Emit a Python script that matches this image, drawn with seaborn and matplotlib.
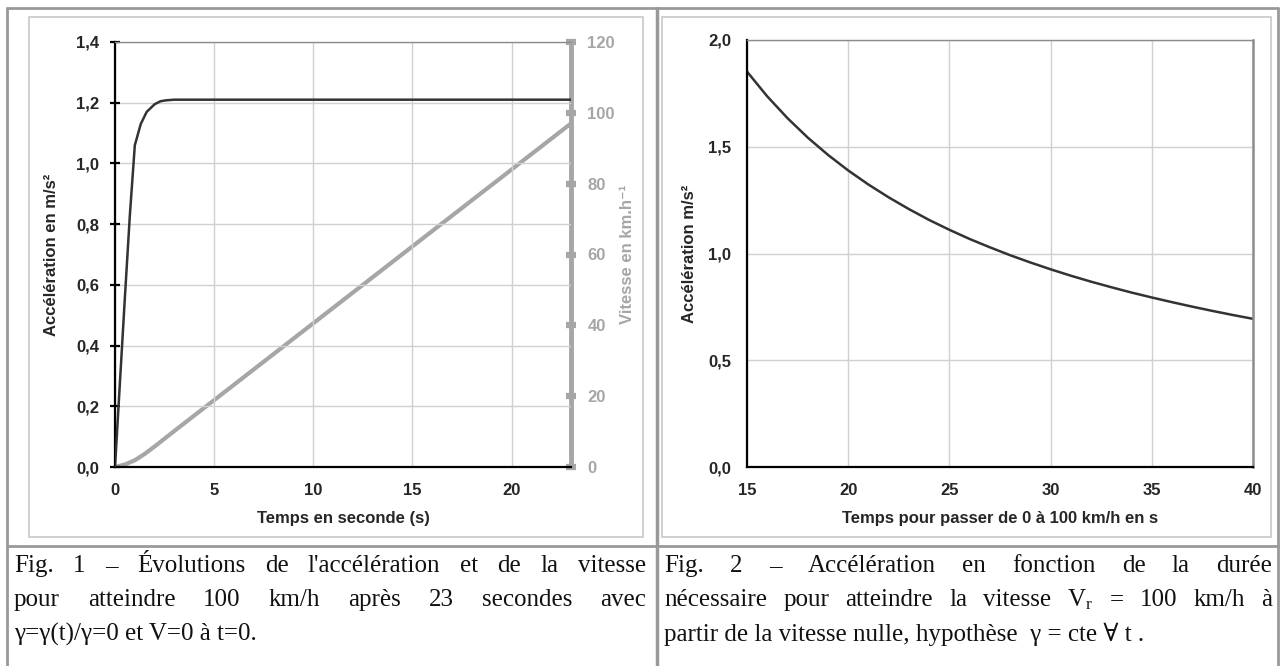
import matplotlib
matplotlib.use("Agg")
import matplotlib.pyplot as plt
from matplotlib.lines import Line2D
from matplotlib.patches import Rectangle
from matplotlib.ticker import FuncFormatter
import seaborn as sns
import pandas as pd

# --- data ---
# Fig. 1 : acceleration (m/s2) and speed (km/h) vs time (s)
t_acc = [0, 0.25, 0.5, 0.75, 1.0, 1.3, 1.6, 2.0, 2.3, 2.6, 3.0, 23]
acc = [0, 0.28, 0.56, 0.83, 1.06, 1.13, 1.17, 1.195, 1.205, 1.208, 1.21, 1.21]
t_vit = [0, 0.5, 1.0, 1.5, 2.0, 2.5, 3.0, 23]
vit = [0, 0.7, 1.9, 3.7, 5.8, 8.0, 10.2, 97]

# Fig. 2 : acceleration needed vs time to reach 100 km/h
duree = [15, 16, 17, 18, 19, 20, 21, 22, 23, 24, 25, 26, 27,
         28, 29, 30, 31, 32, 33, 34, 35, 36, 37, 38, 39, 40]
acc_cte = [1.852, 1.736, 1.634, 1.543, 1.462, 1.389, 1.323, 1.263, 1.208, 1.157, 1.111,
           1.068, 1.029, 0.992, 0.958, 0.926, 0.896, 0.868, 0.842, 0.817, 0.794,
           0.772, 0.751, 0.731, 0.712, 0.694]

caption1 = ["Fig. 1 – Évolutions de l'accélération et de la vitesse",
            "pour atteindre 100 km/h après 23 secondes avec",
            "γ=γ(t)/γ=0 et V=0 à t=0."]
caption2 = ["Fig. 2 – Accélération en fonction de la durée",
            r"nécessaire pour atteindre la vitesse  $\mathregular{V_r}$ = 100 km/h à",
            "partir de la vitesse nulle, hypothèse  γ = cte ∀ t ."]

W, H = 1280, 666
sns.set_theme(style="white")
plt.rcParams['font.family'] = ['Liberation Sans', 'DejaVu Sans']

DARK = "#333333"
GREY = "#a6a6a6"
GRID = "#d0d0d0"
FRAME = "#8c8c8c"
FS = 12

fig = plt.figure(figsize=(W / 100, H / 100), dpi=100)


def box(x0, y0, x1, y1):
    # pixel coords (top-left origin) -> figure fraction
    return [x0 / W, 1 - y1 / H, (x1 - x0) / W, (y1 - y0) / H]


def hline(x0, x1, y, color, lw):
    fig.add_artist(Line2D([x0 / W, x1 / W], [1 - y / H, 1 - y / H], color=color, lw=lw,
                          transform=fig.transFigure))


def vline(x, y0, y1, color, lw):
    fig.add_artist(Line2D([x / W, x / W], [1 - y0 / H, 1 - y1 / H], color=color, lw=lw,
                          transform=fig.transFigure))


comma = FuncFormatter(lambda v, p: f"{v:.1f}".replace(".", ","))

# table frame
hline(7, 1278, 8, "#999999", 2)
vline(7, 8, 666, "#999999", 2)
vline(657, 8, 666, "#999999", 2.5)
vline(1278, 8, 666, "#999999", 2)
hline(7, 1278, 546, "#999999", 2)

# chart boxes
for (x0, x1) in [(29, 643), (662, 1271)]:
    fig.add_artist(Rectangle((x0 / W, 1 - 537 / H), (x1 - x0) / W, (537 - 17) / H,
                             transform=fig.transFigure, fill=False, ec="#c8c8c8", lw=1.2))

# ---------- Fig. 1 ----------
ax1 = fig.add_axes(box(115, 42, 571, 467))
df1 = pd.DataFrame({"t": t_acc, "a": acc})
sns.lineplot(data=df1, x="t", y="a", ax=ax1, color=DARK, lw=1.8, zorder=5)
ax1.set_xlim(0, 23)
ax1.set_ylim(0, 1.4)
ax1.set_xticks([0, 5, 10, 15, 20])
ax1.set_yticks([0, 0.2, 0.4, 0.6, 0.8, 1.0, 1.2, 1.4])
ax1.yaxis.set_major_formatter(comma)
ax1.grid(True, color=GRID, lw=1)
ax1.set_xlabel("Temps en seconde (s)", fontsize=FS, fontweight="bold")
ax1.set_ylabel("Accélération en m/s²", fontsize=FS, fontweight="bold")

ax2 = ax1.twinx()
df2 = pd.DataFrame({"t": t_vit, "v": vit})
sns.lineplot(data=df2, x="t", y="v", ax=ax2, color=GREY, lw=3, zorder=4)
ax2.set_ylim(0, 120)
ax2.set_yticks([0, 20, 40, 60, 80, 100, 120])
ax2.set_ylabel("Vitesse en km.h⁻¹", fontsize=FS, fontweight="bold", color=GREY)
ax2.grid(False)

for a in (ax1, ax2):
    for s in a.spines.values():
        s.set_visible(False)
for side in ("left", "bottom"):
    ax1.spines[side].set_visible(True)
    ax1.spines[side].set_color("black")
    ax1.spines[side].set_linewidth(1.6)
ax1.spines["top"].set_visible(True)
ax1.spines["top"].set_color(FRAME)
ax1.spines["top"].set_linewidth(1)
ax2.spines["right"].set_visible(True)
ax2.spines["right"].set_color(GREY)
ax2.spines["right"].set_linewidth(3.5)
ax1.tick_params(axis="both", direction="inout", length=7, width=1.6, color="black",
                labelsize=FS, pad=8)
ax2.tick_params(axis="y", direction="inout", length=7.5, width=4.5, color=GREY,
                labelsize=FS, labelcolor=GREY, pad=8)
for lab in ax1.get_xticklabels() + ax1.get_yticklabels() + ax2.get_yticklabels():
    lab.set_fontweight("bold")
ax1.set_zorder(ax2.get_zorder() + 1)
ax1.patch.set_visible(False)

ax1.xaxis.set_label_coords(0.5, (467 - 519) / 425)
ax1.xaxis.label.set_va("center")
ax1.yaxis.set_label_coords((52 - 115) / 456, 0.5)
ax1.yaxis.label.set_va("center")
ax2.yaxis.set_label_coords((627 - 115) / 456, 0.5)
ax2.yaxis.label.set_va("center")

# ---------- Fig. 2 ----------
ax3 = fig.add_axes(box(747, 40, 1253, 467))
df3 = pd.DataFrame({"T": duree, "a": acc_cte})
sns.lineplot(data=df3, x="T", y="a", ax=ax3, color=DARK, lw=1.8)
ax3.set_xlim(15, 40)
ax3.set_ylim(0, 2.0)
ax3.set_xticks([15, 20, 25, 30, 35, 40])
ax3.set_yticks([0, 0.5, 1.0, 1.5, 2.0])
ax3.yaxis.set_major_formatter(comma)
ax3.grid(True, color=GRID, lw=1)
ax3.set_xlabel("Temps pour passer de 0 à 100 km/h en s", fontsize=FS, fontweight="bold")
ax3.set_ylabel("Accélération m/s²", fontsize=FS, fontweight="bold")
for side in ("left", "bottom"):
    ax3.spines[side].set_color("black")
    ax3.spines[side].set_linewidth(1.6)
ax3.spines["top"].set_color(FRAME)
ax3.spines["top"].set_linewidth(1)
ax3.spines["right"].set_color(FRAME)
ax3.spines["right"].set_linewidth(1.8)
ax3.tick_params(axis="both", direction="inout", length=7, width=1.6, color="black",
                labelsize=FS, pad=8)
ax3.tick_params(axis="x", top=False)
ax3.tick_params(axis="y", right=False)
for lab in ax3.get_xticklabels() + ax3.get_yticklabels():
    lab.set_fontweight("bold")
ax3.xaxis.set_label_coords(0.5, (467 - 519) / 427)
ax3.xaxis.label.set_va("center")
ax3.yaxis.set_label_coords((689 - 747) / 506, 0.5)
ax3.yaxis.label.set_va("center")

# ---------- captions ----------
serif = ["Liberation Serif", "DejaVu Serif"]
CAP = 18
renderer = fig.canvas.get_renderer()


def write_line(text, x0, x1, y, justify):
    if not justify:
        fig.text(x0 / W, 1 - y / H, text, family=serif, fontsize=CAP, va="center",
                 color="#111111")
        return
    words = text.split()
    ts = [fig.text(0, 1 - y / H, w, family=serif, fontsize=CAP, va="center", color="#111111")
          for w in words]
    widths = [t.get_window_extent(renderer).width for t in ts]
    gap = (x1 - x0 - sum(widths)) / (len(words) - 1)
    x = x0
    for t, w in zip(ts, widths):
        t.set_x(x / W)
        x += w + gap


for cap, (x0, x1) in [(caption1, (14, 646)), (caption2, (664, 1272))]:
    for i, line in enumerate(cap):
        write_line(line, x0, x1, 566 + i * 34, justify=(i < 2))

fig.savefig("out.png", dpi=100)
